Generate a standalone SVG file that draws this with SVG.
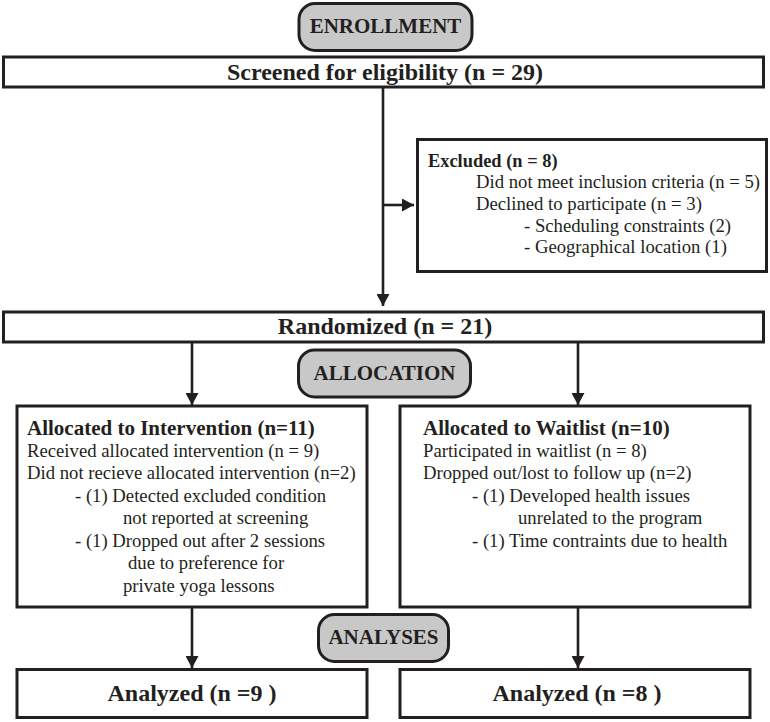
<svg xmlns="http://www.w3.org/2000/svg" width="770" height="722" viewBox="0 0 770 722">
<style>
.box{fill:#fff;stroke:#231f20;stroke-width:3}
.pill{fill:#c8c8c9;stroke:#231f20;stroke-width:3}
.conn{stroke:#231f20;stroke-width:2.6;fill:none}
text{font-family:"Liberation Serif","Times New Roman",serif;fill:#231f20}
.hd{font-weight:bold;font-size:24px;text-anchor:middle}
.ph{font-weight:bold;font-size:21px;text-anchor:middle}
.tt{font-weight:bold;font-size:21px}
.tx{font-size:18.7px}
</style>
<defs>
<marker id="ah" markerUnits="userSpaceOnUse" markerWidth="13" markerHeight="13" viewBox="0 0 12 13" refX="12" refY="6.5" orient="auto">
<path d="M0,0 L12,6.5 L0,13 z" fill="#231f20"/>
</marker>
</defs>
<g id="connectors">
<line class="conn" x1="383" y1="88" x2="383" y2="306" marker-end="url(#ah)"/>
<line class="conn" x1="383" y1="205" x2="414" y2="205" marker-end="url(#ah)"/>
<line class="conn" x1="192" y1="343" x2="192" y2="405" marker-end="url(#ah)"/>
<line class="conn" x1="578" y1="343" x2="578" y2="405" marker-end="url(#ah)"/>
<line class="conn" x1="192" y1="607" x2="192" y2="668" marker-end="url(#ah)"/>
<line class="conn" x1="578" y1="607" x2="578" y2="668" marker-end="url(#ah)"/>
</g>
<g id="enrollment">
<rect class="pill" x="299" y="3.5" width="173" height="47" rx="16"/>
<text class="ph" x="385.5" y="33">ENROLLMENT</text>
</g>
<g id="screened">
<rect class="box" x="3.5" y="57" width="760" height="30"/>
<text class="hd" x="385" y="80">Screened for eligibility (n = 29)</text>
</g>
<g id="excluded">
<rect class="box" x="417.5" y="139.5" width="349" height="132"/>
<text x="428" y="167" style="font-weight:bold;font-size:18.4px">Excluded (n = 8)</text>
<text class="tx" x="476" y="188">Did not meet inclusion criteria (n = 5)</text>
<text class="tx" x="476" y="210">Declined to participate (n = 3)</text>
<text class="tx" x="524" y="232">- Scheduling constraints (2)</text>
<text class="tx" x="524" y="253">- Geographical location (1)</text>
</g>
<g id="randomized">
<rect class="box" x="3.5" y="312" width="760" height="30"/>
<text class="hd" x="385" y="334">Randomized (n = 21)</text>
</g>
<g id="allocation">
<rect class="pill" x="298.5" y="350" width="172" height="47" rx="16"/>
<text class="ph" x="384.5" y="380">ALLOCATION</text>
</g>
<g id="intervention">
<rect class="box" x="17" y="406" width="350" height="201"/>
<text class="tt" x="27" y="435">Allocated to Intervention (n=11)</text>
<text class="tx" x="27" y="457">Received allocated intervention (n = 9)</text>
<text class="tx" x="27" y="479">Did not recieve allocated intervention (n=2)</text>
<text class="tx" x="75" y="502">- (1) Detected excluded condition</text>
<text class="tx" x="123" y="524">not reported at screening</text>
<text class="tx" x="75" y="547">- (1) Dropped out after 2 sessions</text>
<text class="tx" x="128" y="569">due to preference for</text>
<text class="tx" x="123" y="592">private yoga lessons</text>
</g>
<g id="waitlist">
<rect class="box" x="400" y="406" width="350" height="201"/>
<text class="tt" x="423" y="435">Allocated to Waitlist (n=10)</text>
<text class="tx" x="423" y="457">Participated in waitlist (n = 8)</text>
<text class="tx" x="423" y="479">Dropped out/lost to follow up (n=2)</text>
<text class="tx" x="472" y="502">- (1) Developed health issues</text>
<text class="tx" x="518" y="524">unrelated to the program</text>
<text class="tx" x="472" y="547">- (1) Time contraints due to health</text>
</g>
<g id="analyses">
<rect class="pill" x="318.5" y="614.5" width="130" height="47" rx="16"/>
<text class="ph" x="383.5" y="644">ANALYSES</text>
</g>
<g id="analyzed-left">
<rect class="box" x="17" y="669.5" width="350" height="48"/>
<text class="hd" x="192" y="701">Analyzed (n =9 )</text>
</g>
<g id="analyzed-right">
<rect class="box" x="400" y="669.5" width="350" height="48"/>
<text class="hd" x="577" y="701">Analyzed (n =8 )</text>
</g>
</svg>
